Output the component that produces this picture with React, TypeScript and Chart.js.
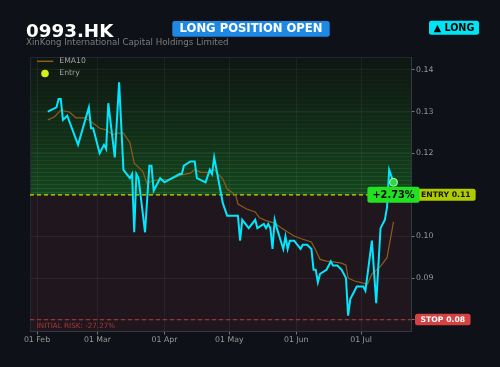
import React, { useEffect, useRef } from "react";
import { Chart, registerables } from "chart.js";

Chart.register(...registerables);

const TICKER = "0993.HK";
const COMPANY = "XinKong International Capital Holdings Limited";
const STATUS_TEXT = "LONG POSITION OPEN";
const SIDE_TEXT = "▲ LONG";

const closeDates = [
  "2025-02-06", "2025-02-10", "2025-02-11", "2025-02-12", "2025-02-13", "2025-02-15", "2025-02-20",
  "2025-02-25", "2025-02-26", "2025-02-27", "2025-03-02", "2025-03-04", "2025-03-05", "2025-03-06",
  "2025-03-09", "2025-03-11", "2025-03-13", "2025-03-16", "2025-03-17", "2025-03-18", "2025-03-19",
  "2025-03-20", "2025-03-23", "2025-03-25", "2025-03-26", "2025-03-27", "2025-03-30", "2025-04-01",
  "2025-04-08", "2025-04-09", "2025-04-10", "2025-04-13", "2025-04-15", "2025-04-16", "2025-04-20",
  "2025-04-22", "2025-04-23", "2025-04-24", "2025-04-28", "2025-04-30", "2025-05-05", "2025-05-06",
  "2025-05-07", "2025-05-10", "2025-05-13", "2025-05-14", "2025-05-17", "2025-05-18", "2025-05-19",
  "2025-05-20", "2025-05-21", "2025-05-22", "2025-05-23", "2025-05-26", "2025-05-27", "2025-05-28",
  "2025-05-29", "2025-05-31", "2025-06-03", "2025-06-04", "2025-06-06", "2025-06-08", "2025-06-09",
  "2025-06-10", "2025-06-11", "2025-06-12", "2025-06-15", "2025-06-17", "2025-06-18", "2025-06-20",
  "2025-06-22", "2025-06-24", "2025-06-25", "2025-06-26", "2025-06-29", "2025-07-02", "2025-07-03",
  "2025-07-06", "2025-07-08", "2025-07-10", "2025-07-12", "2025-07-13", "2025-07-14", "2025-07-16",
];
const closeValues = [
  0.130, 0.131, 0.133, 0.133, 0.128, 0.129, 0.122,
  0.131, 0.126, 0.126, 0.120, 0.122, 0.121, 0.132,
  0.119, 0.137, 0.116, 0.114, 0.115, 0.101, 0.115,
  0.114, 0.101, 0.117, 0.117, 0.111, 0.114, 0.113,
  0.115, 0.115, 0.117, 0.118, 0.118, 0.114, 0.113,
  0.116, 0.115, 0.119, 0.108, 0.105, 0.105, 0.099,
  0.104, 0.102, 0.104, 0.102, 0.103, 0.102, 0.103,
  0.102, 0.097, 0.104, 0.102, 0.097, 0.100, 0.097,
  0.099, 0.099, 0.097, 0.098, 0.098, 0.097, 0.092,
  0.092, 0.089, 0.091, 0.092, 0.094, 0.093, 0.093,
  0.092, 0.090, 0.081, 0.085, 0.088, 0.088, 0.087,
  0.099, 0.084, 0.102, 0.104, 0.107, 0.116, 0.113,
];

const emaDates = [
  "2025-02-06", "2025-02-09", "2025-02-12", "2025-02-16", "2025-02-19", "2025-02-23", "2025-02-26",
  "2025-03-02", "2025-03-05", "2025-03-08", "2025-03-10", "2025-03-13", "2025-03-16", "2025-03-18",
  "2025-03-22", "2025-03-24", "2025-03-26", "2025-03-29", "2025-04-03", "2025-04-06", "2025-04-09",
  "2025-04-13", "2025-04-15", "2025-04-18", "2025-04-22", "2025-04-24", "2025-04-28", "2025-04-30",
  "2025-05-02", "2025-05-04", "2025-05-05", "2025-05-09", "2025-05-13", "2025-05-15", "2025-05-18",
  "2025-05-22", "2025-05-25", "2025-05-28", "2025-05-31", "2025-06-03", "2025-06-08", "2025-06-10",
  "2025-06-12", "2025-06-15", "2025-06-18", "2025-06-22", "2025-06-24", "2025-06-25", "2025-06-28",
  "2025-07-02", "2025-07-04", "2025-07-06", "2025-07-10", "2025-07-13", "2025-07-16",
];
const emaValues = [
  0.1280, 0.1287, 0.1303, 0.1299, 0.1285, 0.1285, 0.1276,
  0.1260, 0.1256, 0.1244, 0.1248, 0.1248, 0.1225, 0.1176,
  0.1156, 0.1126, 0.1133, 0.1136, 0.1137, 0.1142, 0.1148,
  0.1152, 0.1161, 0.1154, 0.1154, 0.1160, 0.1138, 0.1114,
  0.1107, 0.1098, 0.1078, 0.1066, 0.1059, 0.1045, 0.1038,
  0.1032, 0.1021, 0.1011, 0.1001, 0.0995, 0.0987, 0.0967,
  0.0945, 0.0941, 0.0939, 0.0936, 0.0931, 0.0900, 0.0893,
  0.0888, 0.0886, 0.0910, 0.0928, 0.0949, 0.1035,
];

const xTickDates = ["2025-02-01", "2025-03-01", "2025-04-01", "2025-05-01", "2025-06-01", "2025-07-01"];
const xTickLabels = ["01 Feb", "01 Mar", "01 Apr", "01 May", "01 Jun", "01 Jul"];
const yTickValues = [0.08, 0.09, 0.1, 0.11, 0.12, 0.13, 0.14];

const ENTRY_PRICE = 0.11;
const STOP_PRICE = 0.08;
const X_MIN_DAY = -3.24;
const X_MAX_DAY = 173.1;
const Y_MIN = 0.0773;
const Y_MAX = 0.1431;

const BASE = Date.UTC(2025, 1, 1);
function toDay(s: string) {
  const [y, m, d] = s.split("-").map(Number);
  return (Date.UTC(y, m - 1, d) - BASE) / 86400000;
}

const FONT = "'DejaVu Sans', sans-serif";

function roundRect(ctx: CanvasRenderingContext2D, x: number, y: number, w: number, h: number, r: number) {
  ctx.beginPath();
  ctx.moveTo(x + r, y);
  ctx.arcTo(x + w, y, x + w, y + h, r);
  ctx.arcTo(x + w, y + h, x, y + h, r);
  ctx.arcTo(x, y + h, x, y, r);
  ctx.arcTo(x, y, x + w, y, r);
  ctx.closePath();
}

function badge(
  ctx: CanvasRenderingContext2D,
  text: string,
  x: number,
  y: number,
  w: number,
  h: number,
  bg: string,
  fg: string,
  font: string
) {
  ctx.save();
  ctx.fillStyle = bg;
  roundRect(ctx, x, y, w, h, 2.5);
  ctx.fill();
  ctx.font = font;
  ctx.fillStyle = fg;
  ctx.textAlign = "center";
  ctx.textBaseline = "middle";
  ctx.fillText(text, x + w / 2, y + h / 2 + 0.5);
  ctx.restore();
}

const decorPlugin = {
  id: "decor",
  beforeDraw(chart: any) {
    const { ctx, chartArea: a, scales } = chart;
    const ey = scales.y.getPixelForValue(ENTRY_PRICE);
    ctx.save();
    ctx.fillStyle = "#0e1117";
    ctx.fillRect(0, 0, chart.width, chart.height);
    ctx.fillStyle = "#1f171d";
    ctx.fillRect(a.left, ey, a.right - a.left, a.bottom - ey);
    ctx.fillStyle = "#0e1411";
    ctx.fillRect(a.left, a.top, a.right - a.left, ey - a.top);
    const g = ctx.createLinearGradient(0, a.top, 0, ey);
    g.addColorStop(0, "rgba(30,110,45,0.02)");
    g.addColorStop(1, "rgba(30,130,45,0.45)");
    ctx.fillStyle = g;
    ctx.fillRect(a.left, a.top, a.right - a.left, ey - a.top);
    ctx.lineWidth = 1;
    for (let yy = ey - 3; yy > a.top; yy -= 4) {
      const t = (yy - a.top) / (ey - a.top);
      ctx.strokeStyle = `rgba(70,170,80,${(0.02 + 0.2 * t * t).toFixed(3)})`;
      ctx.beginPath();
      ctx.moveTo(a.left, Math.round(yy) + 0.5);
      ctx.lineTo(a.right, Math.round(yy) + 0.5);
      ctx.stroke();
    }
    ctx.restore();
  },
  beforeDatasetsDraw(chart: any) {
    const { ctx, chartArea: a, scales } = chart;
    const ey = scales.y.getPixelForValue(ENTRY_PRICE);
    const sy = scales.y.getPixelForValue(STOP_PRICE);
    ctx.save();
    ctx.strokeStyle = "#232831";
    ctx.lineWidth = 1;
    ctx.beginPath();
    ctx.moveTo(a.left + 0.5, a.bottom);
    ctx.lineTo(a.left + 0.5, a.top + 0.5);
    ctx.lineTo(a.right, a.top + 0.5);
    ctx.stroke();
    ctx.lineWidth = 1.1;
    ctx.setLineDash([4, 3]);
    ctx.strokeStyle = "#c8e000";
    ctx.beginPath();
    ctx.moveTo(a.left, ey);
    ctx.lineTo(a.right, ey);
    ctx.stroke();
    ctx.strokeStyle = "#c03838";
    ctx.beginPath();
    ctx.moveTo(a.left, sy);
    ctx.lineTo(a.right, sy);
    ctx.stroke();
    ctx.restore();
  },
  afterDraw(chart: any) {
    const { ctx, chartArea: a, scales } = chart;
    const ey = scales.y.getPixelForValue(ENTRY_PRICE);
    const sy = scales.y.getPixelForValue(STOP_PRICE);
    const lastIdx = closeValues.length - 1;
    const lastX = scales.x.getPixelForValue(toDay(closeDates[lastIdx]));
    const last = closeValues[lastIdx];
    const pct = (last / ENTRY_PRICE - 1) * 100;
    const risk = (STOP_PRICE / ENTRY_PRICE - 1) * 100;
    ctx.save();

    // title area
    ctx.textAlign = "left";
    ctx.textBaseline = "alphabetic";
    ctx.fillStyle = "#ffffff";
    ctx.font = `bold 18.3px ${FONT}`;
    ctx.fillText(TICKER, 26, 36.7);
    ctx.fillStyle = "#7c7c7c";
    ctx.font = `8.7px ${FONT}`;
    ctx.fillText(COMPANY, 26, 44.5);
    badge(ctx, STATUS_TEXT, 172.3, 21, 157.4, 15.7, "#1e88e5", "#ffffff", `bold 11.6px ${FONT}`);
    badge(ctx, SIDE_TEXT, 429, 20.7, 50, 14, "#00e5f5", "#000000", `bold 9.6px ${FONT}`);

    // legend
    ctx.strokeStyle = "#8c5c1c";
    ctx.lineWidth = 1.5;
    ctx.beginPath();
    ctx.moveTo(37, 61.3);
    ctx.lineTo(53.3, 61.3);
    ctx.stroke();
    ctx.fillStyle = "#d4f01a";
    ctx.beginPath();
    ctx.arc(45, 73.5, 3.8, 0, Math.PI * 2);
    ctx.fill();
    ctx.fillStyle = "#a0a0a0";
    ctx.font = `7.7px ${FONT}`;
    ctx.textAlign = "left";
    ctx.textBaseline = "middle";
    ctx.fillText("EMA10", 59.3, 61.5);
    ctx.fillText("Entry", 59.3, 73.5);

    // initial risk note
    ctx.fillStyle = "#a83838";
    ctx.font = `7.2px ${FONT}`;
    ctx.textAlign = "left";
    ctx.textBaseline = "middle";
    ctx.fillText(`INITIAL RISK: ${risk.toFixed(2)}%`, 36.7, 325.7);

    // right side labels
    const eText = `ENTRY ${ENTRY_PRICE.toFixed(2)}`;
    ctx.font = `bold 7.7px ${FONT}`;
    const ew = ctx.measureText(eText).width + 10;
    badge(ctx, eText, a.right + 5, ey - 6, ew, 12, "#b0cc00", "#141414", `bold 7.7px ${FONT}`);
    const sText = `STOP ${STOP_PRICE.toFixed(2)}`;
    ctx.font = `bold 7.7px ${FONT}`;
    const sw = ctx.measureText(sText).width + 11;
    badge(ctx, sText, a.right + 4, sy - 6, sw, 11.5, "#d44242", "#ffffff", `bold 7.7px ${FONT}`);

    const pText = `${pct >= 0 ? "+" : ""}${pct.toFixed(2)}%`;
    ctx.font = `bold 9.8px ${FONT}`;
    const pw = ctx.measureText(pText).width + 10;
    badge(ctx, pText, lastX - pw / 2, ey - 8, pw, 16, "#22e022", "#0a0a0a", `bold 9.8px ${FONT}`);

    ctx.restore();
  },
};

export default function App() {
  const ref = useRef<HTMLCanvasElement>(null);
  useEffect(() => {
    document.body.style.margin = "0";
    document.body.style.background = "#0e1117";
    const closePts = closeDates.map((d, i) => ({ x: toDay(d), y: closeValues[i] }));
    const emaPts = emaDates.map((d, i) => ({ x: toDay(d), y: emaValues[i] }));
    const lastIdx = closeValues.length - 1;
    const tickDays = xTickDates.map(toDay);
    const chart = new Chart(ref.current as HTMLCanvasElement, {
      type: "line",
      data: {
        datasets: [
          {
            label: "EMA10",
            data: emaPts,
            borderColor: "#8c5c1c",
            borderWidth: 1.2,
            pointRadius: 0,
            tension: 0,
            order: 3,
          },
          {
            label: "Close",
            data: closePts,
            borderColor: "#00e8ff",
            borderWidth: 2,
            pointRadius: 0,
            tension: 0,
            order: 2,
          },
          {
            label: "Entry",
            type: "scatter",
            data: [{ x: toDay(closeDates[lastIdx]), y: closeValues[lastIdx] }],
            pointRadius: 4,
            backgroundColor: "#2ed84a",
            borderColor: "#b8ffc0",
            borderWidth: 1,
            order: 1,
          } as any,
        ],
      },
      options: {
        animation: false,
        responsive: false,
        devicePixelRatio: 1,
        layout: { padding: { left: 30, top: 57, right: 0, bottom: 0 } },
        plugins: { legend: { display: false }, tooltip: { enabled: false } },
        scales: {
          x: {
            type: "linear",
            min: X_MIN_DAY,
            max: X_MAX_DAY,
            afterBuildTicks: (s: any) => {
              s.ticks = tickDays.map((v) => ({ value: v }));
            },
            afterFit: (s: any) => {
              s.height = 36;
            },
            ticks: {
              autoSkip: false,
              maxRotation: 0,
              padding: 1,
              color: "#9a9a9a",
              font: { family: "DejaVu Sans", size: 7.8 },
              callback: (v: any) => {
                const i = tickDays.indexOf(Number(v));
                return i >= 0 ? xTickLabels[i] : "";
              },
            },
            grid: { color: "rgba(255,255,255,0.055)", tickColor: "#777", tickLength: 3.5 },
            border: { display: true, color: "#333842" },
          },
          y: {
            type: "linear",
            position: "right",
            min: Y_MIN,
            max: Y_MAX,
            afterBuildTicks: (s: any) => {
              s.ticks = yTickValues.map((v) => ({ value: v }));
            },
            afterFit: (s: any) => {
              s.width = 89;
            },
            ticks: {
              padding: 1.5,
              color: "#9a9a9a",
              font: { family: "DejaVu Sans", size: 7.8 },
              callback: (v: any) => Number(v).toFixed(2),
            },
            grid: { color: "rgba(255,255,255,0.055)", tickColor: "#777", tickLength: 3.5 },
            border: { display: true, color: "#333842" },
          },
        },
      },
      plugins: [decorPlugin],
    } as any);
    return () => chart.destroy();
  }, []);
  return (
    <div style={{ position: "fixed", left: 0, top: 0, width: 500, height: 367, background: "#0e1117" }}>
      <canvas ref={ref} width={500} height={367} style={{ display: "block" }} />
    </div>
  );
}
